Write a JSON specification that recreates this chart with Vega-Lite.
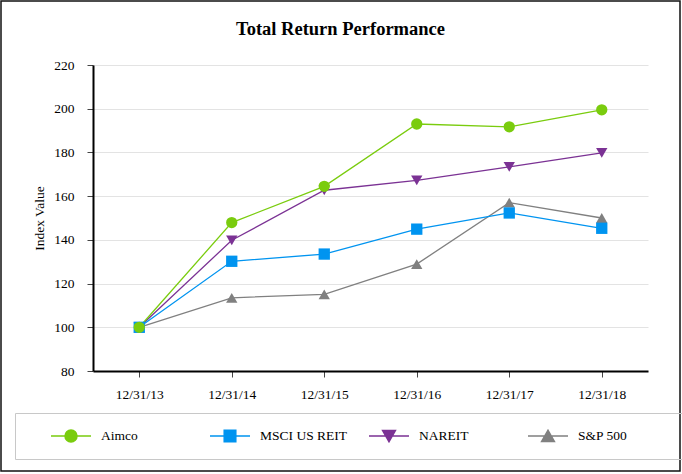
{
  "$schema": "https://vega.github.io/schema/vega-lite/v6.json",
  "width": 679,
  "height": 470,
  "autosize": {"type": "none"},
  "padding": {"left": 1, "top": 1, "right": 2, "bottom": 3},
  "background": "white",
  "title": {"text": "Total Return Performance", "font": "Liberation Serif", "fontSize": 18.5, "fontWeight": "bold", "color": "black", "anchor": "middle", "offset": -37},
  "data": {"values": [
    {"date": "12/31/13", "series": "S&P 500", "value": 100},
    {"date": "12/31/14", "series": "S&P 500", "value": 113.5},
    {"date": "12/31/15", "series": "S&P 500", "value": 115.1},
    {"date": "12/31/16", "series": "S&P 500", "value": 128.9},
    {"date": "12/31/17", "series": "S&P 500", "value": 157},
    {"date": "12/31/18", "series": "S&P 500", "value": 150},
    {"date": "12/31/13", "series": "NAREIT", "value": 100},
    {"date": "12/31/14", "series": "NAREIT", "value": 139.8},
    {"date": "12/31/15", "series": "NAREIT", "value": 162.7},
    {"date": "12/31/16", "series": "NAREIT", "value": 167.2},
    {"date": "12/31/17", "series": "NAREIT", "value": 173.4},
    {"date": "12/31/18", "series": "NAREIT", "value": 179.8},
    {"date": "12/31/13", "series": "MSCI US REIT", "value": 100},
    {"date": "12/31/14", "series": "MSCI US REIT", "value": 130.2},
    {"date": "12/31/15", "series": "MSCI US REIT", "value": 133.5},
    {"date": "12/31/16", "series": "MSCI US REIT", "value": 144.9},
    {"date": "12/31/17", "series": "MSCI US REIT", "value": 152.3},
    {"date": "12/31/18", "series": "MSCI US REIT", "value": 145.3},
    {"date": "12/31/13", "series": "Aimco", "value": 100},
    {"date": "12/31/14", "series": "Aimco", "value": 147.9},
    {"date": "12/31/15", "series": "Aimco", "value": 164.5},
    {"date": "12/31/16", "series": "Aimco", "value": 193},
    {"date": "12/31/17", "series": "Aimco", "value": 191.7},
    {"date": "12/31/18", "series": "Aimco", "value": 199.5}
  ]},
  "encoding": {
    "x": {
      "field": "date", "type": "nominal",
      "sort": ["12/31/13", "12/31/14", "12/31/15", "12/31/16", "12/31/17", "12/31/18"],
      "scale": {"type": "point", "range": [92, 647], "padding": 0.5},
      "axis": {"title": null, "offset": -100, "labelAngle": 0, "labelFont": "Liberation Serif", "labelFontSize": 13.5, "labelColor": "black", "labelPadding": 10, "tickSize": 6, "tickColor": "#444", "domainColor": "black", "domainWidth": 2, "grid": false}
    },
    "y": {
      "field": "value", "type": "quantitative",
      "scale": {"domain": [80, 220], "range": [370, 64], "nice": false, "zero": false},
      "axis": {"values": [80, 100, 120, 140, 160, 180, 200, 220], "offset": -92, "title": "Index Value", "titleFont": "Liberation Serif", "titleFontSize": 13.5, "titleFontWeight": "normal", "titleColor": "black", "titlePadding": 7, "labelFont": "Liberation Serif", "labelFontSize": 13.5, "labelColor": "black", "labelPadding": 13, "tickSize": 6, "tickColor": "#444", "domainColor": "black", "domainWidth": 2, "grid": true, "gridColor": "#e3e3e3", "gridWidth": 1}
    },
    "color": {
      "field": "series", "type": "nominal",
      "scale": {"domain": ["Aimco", "MSCI US REIT", "NAREIT", "S&P 500"], "range": ["#7acc0e", "#0094f0", "#7b3294", "#808080"]},
      "legend": {
        "orient": "none", "legendX": 14, "legendY": 412,
        "direction": "horizontal", "columns": 4, "gridAlign": "all",
        "columnPadding": -24, "symbolOffset": 20, "labelOffset": 9,
        "padding": 15, "clipHeight": 16,
        "strokeColor": "#c8c8c8",
        "symbolSize": 1600, "symbolStrokeWidth": 1.5, "symbolOpacity": 1,
        "symbolStrokeColor": {"expr": "scale('color', datum.value)"},
        "symbolFillColor": {"expr": "scale('color', datum.value)"},
        "symbolType": {"expr": "datum.value === 'Aimco' ? 'M-1,0L1,0M0.3,0C0.3,0.166 0.166,0.3 0,0.3C-0.166,0.3 -0.3,0.166 -0.3,0C-0.3,-0.166 -0.166,-0.3 0,-0.3C0.166,-0.3 0.3,-0.166 0.3,0Z' : datum.value === 'MSCI US REIT' ? 'M-1,0L1,0M-0.29,-0.29L0.29,-0.29L0.29,0.29L-0.29,0.29Z' : datum.value === 'NAREIT' ? 'M-1,0L1,0M-0.32,-0.27L0.32,-0.27L0,0.29Z' : 'M-1,0L1,0M-0.32,0.27L0.32,0.27L0,-0.29Z'"},
        "title": " ", "titleOrient": "right", "titlePadding": 68, "titleFontSize": 6
      }
    }
  },
  "layer": [
    {"mark": {"type": "line", "strokeWidth": 1.3}},
    {
      "mark": {
        "type": "point", "filled": true, "opacity": 1, "size": 128,
        "shape": {"expr": "datum.value === 'Aimco' ? 'M-1,0L1,0M0.3,0C0.3,0.166 0.166,0.3 0,0.3C-0.166,0.3 -0.3,0.166 -0.3,0C-0.3,-0.166 -0.166,-0.3 0,-0.3C0.166,-0.3 0.3,-0.166 0.3,0Z' : datum.value === 'MSCI US REIT' ? 'M-1,0L1,0M-0.29,-0.29L0.29,-0.29L0.29,0.29L-0.29,0.29Z' : datum.value === 'NAREIT' ? 'M-1,0L1,0M-0.32,-0.27L0.32,-0.27L0,0.29Z' : datum.value === 'S&P 500' ? 'M-1,0L1,0M-0.32,0.27L0.32,0.27L0,-0.29Z' : datum.series === 'Aimco' ? 'circle' : datum.series === 'MSCI US REIT' ? 'square' : datum.series === 'NAREIT' ? 'triangle-down' : 'triangle-up'"}
      }
    }
  ],
  "config": {
    "view": {"stroke": "#111111", "strokeWidth": 1.5},
    "font": "Liberation Serif",
    "legend": {"labelFont": "Liberation Serif", "labelFontSize": 13.5, "labelColor": "black", "titleFont": "Liberation Serif"}
  }
}
